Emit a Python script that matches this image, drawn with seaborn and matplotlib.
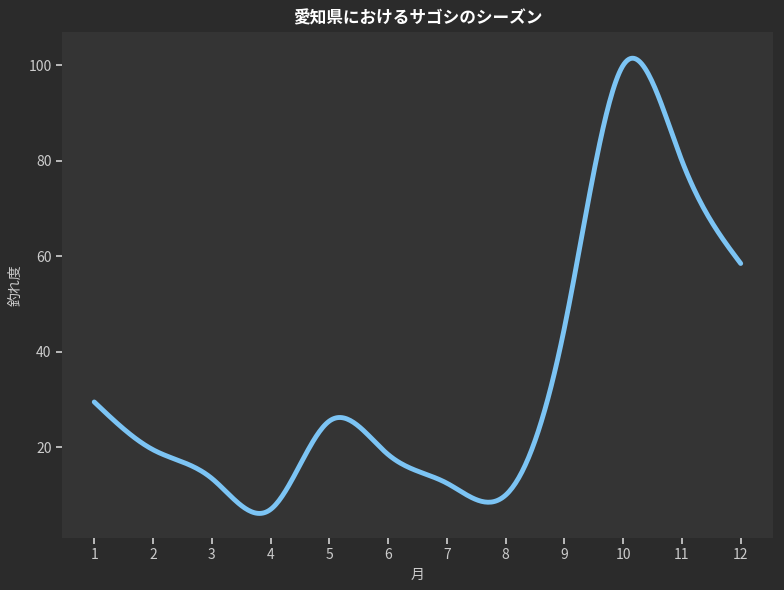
import numpy as np
import pandas as pd
import matplotlib
matplotlib.use("Agg")
import matplotlib.pyplot as plt
import seaborn as sns

months = [1, 2, 3, 4, 5, 6, 7, 8, 9, 10, 11, 12]
catch = [29.5, 19.5, 13.5, 7.0, 25.5, 18.5, 12.5, 10.0, 45.0, 100.0, 80.0, 58.5]

def natural_spline(x, y, xs):
    x = np.asarray(x, float); y = np.asarray(y, float)
    n = len(x); h = np.diff(x)
    A = np.zeros((n, n)); b = np.zeros(n)
    A[0, 0] = A[-1, -1] = 1
    for i in range(1, n - 1):
        A[i, i - 1] = h[i - 1]; A[i, i] = 2 * (h[i - 1] + h[i]); A[i, i + 1] = h[i]
        b[i] = 3 * ((y[i + 1] - y[i]) / h[i] - (y[i] - y[i - 1]) / h[i - 1])
    c = np.linalg.solve(A, b)
    idx = np.clip(np.searchsorted(x, xs) - 1, 0, n - 2)
    dx = xs - x[idx]
    bb = (y[idx + 1] - y[idx]) / h[idx] - h[idx] * (2 * c[idx] + c[idx + 1]) / 3
    d = (c[idx + 1] - c[idx]) / (3 * h[idx])
    return y[idx] + bb * dx + c[idx] * dx**2 + d * dx**3

xs = np.linspace(1, 12, 400)
df = pd.DataFrame({"月": xs, "釣れ度": natural_spline(months, catch, xs)})

sns.set_theme(style="dark")
plt.rcParams['font.family'] = ['Noto Sans CJK JP', 'DejaVu Sans']
fig, ax = plt.subplots(figsize=(7.84, 5.90), dpi=100)
fig.patch.set_facecolor("#2b2b2b")
ax.set_facecolor("#343434")
sns.lineplot(data=df, x="月", y="釣れ度", ax=ax, color="#7cc4f4", linewidth=3.5)
for s in ax.spines.values():
    s.set_visible(False)
ax.grid(False)
ax.set_xlim(0.45, 12.55)
ax.set_ylim(1, 107)
ax.set_xticks(months)
ax.set_yticks([20, 40, 60, 80, 100])
ax.tick_params(colors="#cccccc", labelsize=10, length=4, color="#cccccc", left=True, bottom=True)
ax.set_xlabel("月", color="#cccccc", fontsize=10)
ax.set_ylabel("釣れ度", color="#cccccc", fontsize=10)
ax.set_title("愛知県におけるサゴシのシーズン", color="white", fontsize=12, fontweight="bold")
fig.subplots_adjust(left=0.079, right=0.986, top=0.946, bottom=0.088)
fig.savefig("out.png", facecolor=fig.get_facecolor())
